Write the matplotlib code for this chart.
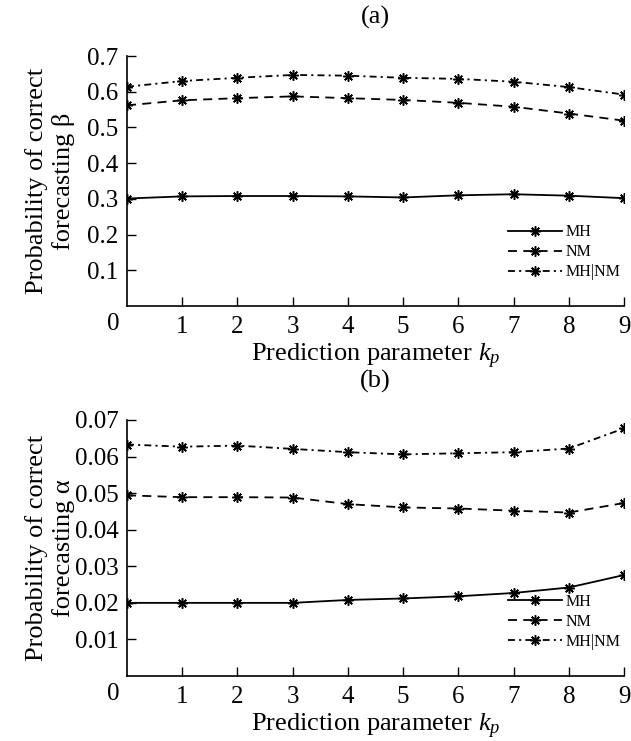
import numpy as np
import matplotlib
matplotlib.use("Agg")
import matplotlib.pyplot as plt

# ---------------------- data ----------------------
kp = [0, 1, 2, 3, 4, 5, 6, 7, 8, 9]

# (a) probability of correct forecasting beta
beta_mh = [0.301, 0.307, 0.308, 0.308, 0.307, 0.304, 0.310, 0.313, 0.309, 0.302]
beta_nm = [0.562, 0.576, 0.582, 0.587, 0.582, 0.577, 0.569, 0.558, 0.539, 0.519]
beta_mhnm = [0.614, 0.630, 0.639, 0.647, 0.645, 0.639, 0.636, 0.628, 0.613, 0.592]

# (b) probability of correct forecasting alpha
alpha_mh = [0.0200, 0.0200, 0.0200, 0.0200, 0.0208, 0.0212, 0.0218, 0.0227, 0.0242, 0.0276]
alpha_nm = [0.0494, 0.0489, 0.0489, 0.0488, 0.0470, 0.0461, 0.0458, 0.0452, 0.0447, 0.0473]
alpha_mhnm = [0.0633, 0.0627, 0.0630, 0.0621, 0.0612, 0.0606, 0.0609, 0.0612, 0.0622, 0.0677]

series_names = ["MH", "NM", "MH|NM"]

# ---------------------- style ----------------------
plt.rcParams["font.family"] = ["Liberation Serif", "DejaVu Serif"]
plt.rcParams["mathtext.fontset"] = "custom"
plt.rcParams["mathtext.rm"] = "Liberation Serif"
plt.rcParams["mathtext.it"] = "Liberation Serif:italic"
plt.rcParams["lines.scale_dashes"] = False

TICK_FS = 18
LABEL_FS = 19
LEGEND_FS = 11.5
LW = 1.3
MARKER = (8, 2, 0)
STYLES = [
    dict(linestyle="-"),
    dict(linestyle=(0, (6.5, 4.5))),
    dict(linestyle=(0, (5, 3, 1.5, 3))),
]


def draw_panel(ax, series, yticks, ytick_fmt, ylabel, title):
    for vals, name, st in zip(series, series_names, STYLES):
        ax.plot(kp, vals, color="black", linewidth=LW, marker=MARKER,
                markersize=7.5, markeredgewidth=1.1, label=name, **st)

    ax.set_xlim(0, 9)
    ax.set_ylim(0, yticks[-1])
    ax.set_xticks(kp[1:])
    ax.set_yticks(yticks)
    ax.set_yticklabels([ytick_fmt.format(v) for v in yticks])
    ax.tick_params(direction="in", length=6.5, width=1.0, labelsize=TICK_FS)
    ax.tick_params(axis="x", pad=7)
    ax.tick_params(axis="y", pad=6)
    for side in ("top", "right"):
        ax.spines[side].set_visible(False)
    for side in ("left", "bottom"):
        ax.spines[side].set_linewidth(1.2)

    # shared origin label
    ax.annotate("0", xy=(0, 0), xycoords="data", xytext=(-10, -13),
                textcoords="offset points", ha="center", va="center",
                fontsize=TICK_FS)

    ax.set_xlabel("Prediction parameter $k_p$", fontsize=LABEL_FS, labelpad=3)
    ax.set_title(title, fontsize=LABEL_FS, pad=23)

    ax.legend(loc="lower right", bbox_to_anchor=(1.0, 0.09), frameon=False,
              fontsize=LEGEND_FS, handlelength=3.4, handletextpad=0.25,
              labelspacing=0.25, borderpad=0.2, borderaxespad=0.0)

    pos = ax.get_position()
    fig.text(0.079, pos.y0 + pos.height / 2, ylabel, rotation=90,
             ha="center", va="center", multialignment="center",
             fontsize=LABEL_FS, linespacing=1.25)


fig = plt.figure(figsize=(6.31, 7.41), dpi=100)
ax_a = fig.add_axes([0.2013, 0.587, 0.7876, 0.3374])
ax_b = fig.add_axes([0.2013, 0.0877, 0.7876, 0.3455])

draw_panel(ax_a, [beta_mh, beta_nm, beta_mhnm],
           [0.1, 0.2, 0.3, 0.4, 0.5, 0.6, 0.7], "{:.1f}",
           "Probability of correct\nforecasting β", "(a)")
draw_panel(ax_b, [alpha_mh, alpha_nm, alpha_mhnm],
           [0.01, 0.02, 0.03, 0.04, 0.05, 0.06, 0.07], "{:.2f}",
           "Probability of correct\nforecasting α", "(b)")

fig.savefig("out.png", dpi=100)
